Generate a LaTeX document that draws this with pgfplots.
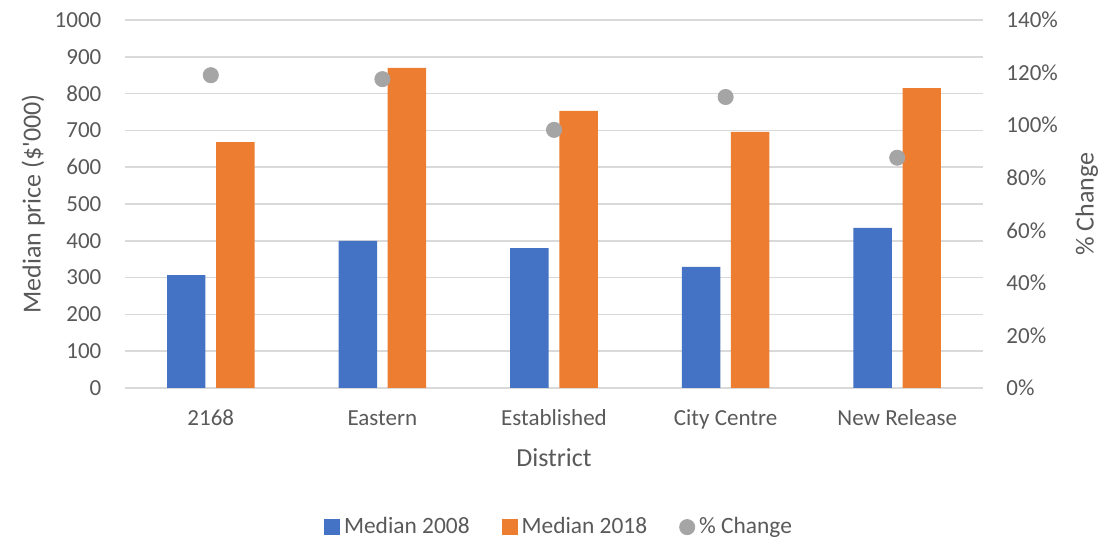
\documentclass[border=0pt]{standalone}
\usepackage{pgfplots}
\pgfplotsset{compat=1.18}
\usepackage{fontspec}
\setmainfont{Carlito}
\definecolor{cblue}{HTML}{4472C4}
\definecolor{corange}{HTML}{ED7D31}
\definecolor{cgrey}{HTML}{A5A5A5}
\definecolor{cgrid}{HTML}{D9D9D9}
\definecolor{ctext}{HTML}{595959}
\begin{document}
\begin{tikzpicture}
\pgfplotsset{
  base/.style={
    scale only axis, width=429pt, height=184pt,
    xmin=-0.5, xmax=4.5, ymin=0,
    axis line style={draw=none}, tick style={draw=none},
    ticklabel style={font=\fontsize{11.5}{13}\selectfont, text=ctext},
    label style={font=\fontsize{13}{15}\selectfont, text=ctext},
  }
}
\begin{axis}[base, name=main,
  ymax=1000, ytick={0,100,...,1000},
  yticklabels={0,100,200,300,400,500,600,700,800,900,1000},
  yticklabel style={anchor=east, xshift=-8.3pt},
  ymajorgrids, grid style={cgrid, line width=0.75pt},
  xtick={0,1,2,3,4},
  xticklabels={2168,Eastern,Established,City Centre,New Release},
  xticklabel style={anchor=base, yshift=-19pt},
  xlabel={District},
  xlabel style={at={(axis description cs:0.5,-0.19)}, anchor=center},
  ylabel={Median price (\$\textquotesingle 000)},
  ylabel style={at={(axis description cs:-0.107,0.5)}, anchor=center},
]
\addplot[ybar, bar width=0.224, bar shift=-0.143, fill=cblue, draw=none]
  coordinates {(0,307) (1,400) (2,380) (3,329) (4,435)};
\addplot[ybar, bar width=0.224, bar shift=0.143, fill=corange, draw=none]
  coordinates {(0,668) (1,870) (2,753) (3,696) (4,815)};
\coordinate (bl) at (rel axis cs:0,0);
\coordinate (tr) at (rel axis cs:1,1);
\end{axis}
\begin{axis}[base,
  axis y line*=right, axis x line=none,
  ymax=140, ytick={0,20,...,140},
  yticklabels={0\%,20\%,40\%,60\%,80\%,100\%,120\%,140\%},
  yticklabel style={anchor=west, xshift=8.2pt},
  xtick=\empty,
  ylabel={\% Change},
  ylabel style={at={(axis description cs:1.121,0.5)}, anchor=center},
  legend columns=3,
  legend style={draw=none, fill=none, at={(0.507,-0.378)}, anchor=center,
    font=\fontsize{11.7}{13}\selectfont, text=ctext,
    /tikz/every even column/.append style={column sep=14pt}},
]
\addlegendimage{legend image code/.code={\fill[cblue] (0pt,-3.8pt) rectangle (7.6pt,3.8pt);}}
\addlegendentry{Median 2008}
\addlegendimage{legend image code/.code={\fill[corange] (0pt,-3.8pt) rectangle (7.6pt,3.8pt);}}
\addlegendentry{Median 2018}
\addplot[only marks, mark=*, mark size=3.8pt, color=cgrey,
  legend image code/.code={\fill[cgrey] (3.8pt,0pt) circle (3.8pt);}]
  coordinates {(0,119) (1,117.5) (2,98.2) (3,110.7) (4,87.6)};
\addlegendentry{\% Change}
\end{axis}
\pgfresetboundingbox
\path[use as bounding box] ([shift={(-62.5pt,-75.5pt)}]bl) rectangle ([shift={(68.5pt,10pt)}]tr);
\end{tikzpicture}
\end{document}
